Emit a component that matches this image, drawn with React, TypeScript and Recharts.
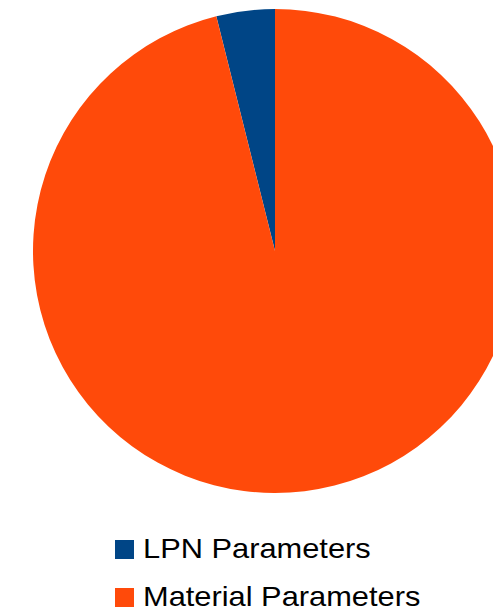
import React from "react";
import { PieChart, Pie, Cell } from "recharts";

const categories = ["LPN Parameters", "Material Parameters"];
const values = [3.9, 96.1];
const colors = ["#004586", "#ff4a0a"];

const data = categories.map((name, i) => ({ name, value: values[i] }));

export default function App() {
  return (
    <div style={{ position: "absolute", left: 0, top: 0, width: 493, height: 613, overflow: "hidden", background: "#fff" }}>
      <PieChart width={493} height={613} margin={{ top: 0, right: 0, bottom: 0, left: 0 }}>
        <Pie
          data={data}
          dataKey="value"
          nameKey="name"
          cx={275}
          cy={251}
          outerRadius={242}
          startAngle={90}
          endAngle={450}
          stroke="none"
          isAnimationActive={false}
        >
          {data.map((d, i) => (
            <Cell key={d.name} fill={colors[i]} />
          ))}
        </Pie>
      </PieChart>
      <div
        style={{
          position: "absolute",
          left: 115,
          top: 525,
          fontFamily: "'Liberation Sans', Arial, sans-serif",
          fontSize: 28,
          color: "#000",
        }}
      >
        {categories.map((name, i) => (
          <div key={name} style={{ display: "flex", alignItems: "center", height: 48 }}>
            <span style={{ display: "inline-block", width: 19, height: 19, background: colors[i], marginRight: 9 }} />
            <span style={{ display: "inline-block", transform: "scaleX(1.1)", transformOrigin: "left center", whiteSpace: "nowrap", lineHeight: "28px" }}>{name}</span>
          </div>
        ))}
      </div>
    </div>
  );
}
